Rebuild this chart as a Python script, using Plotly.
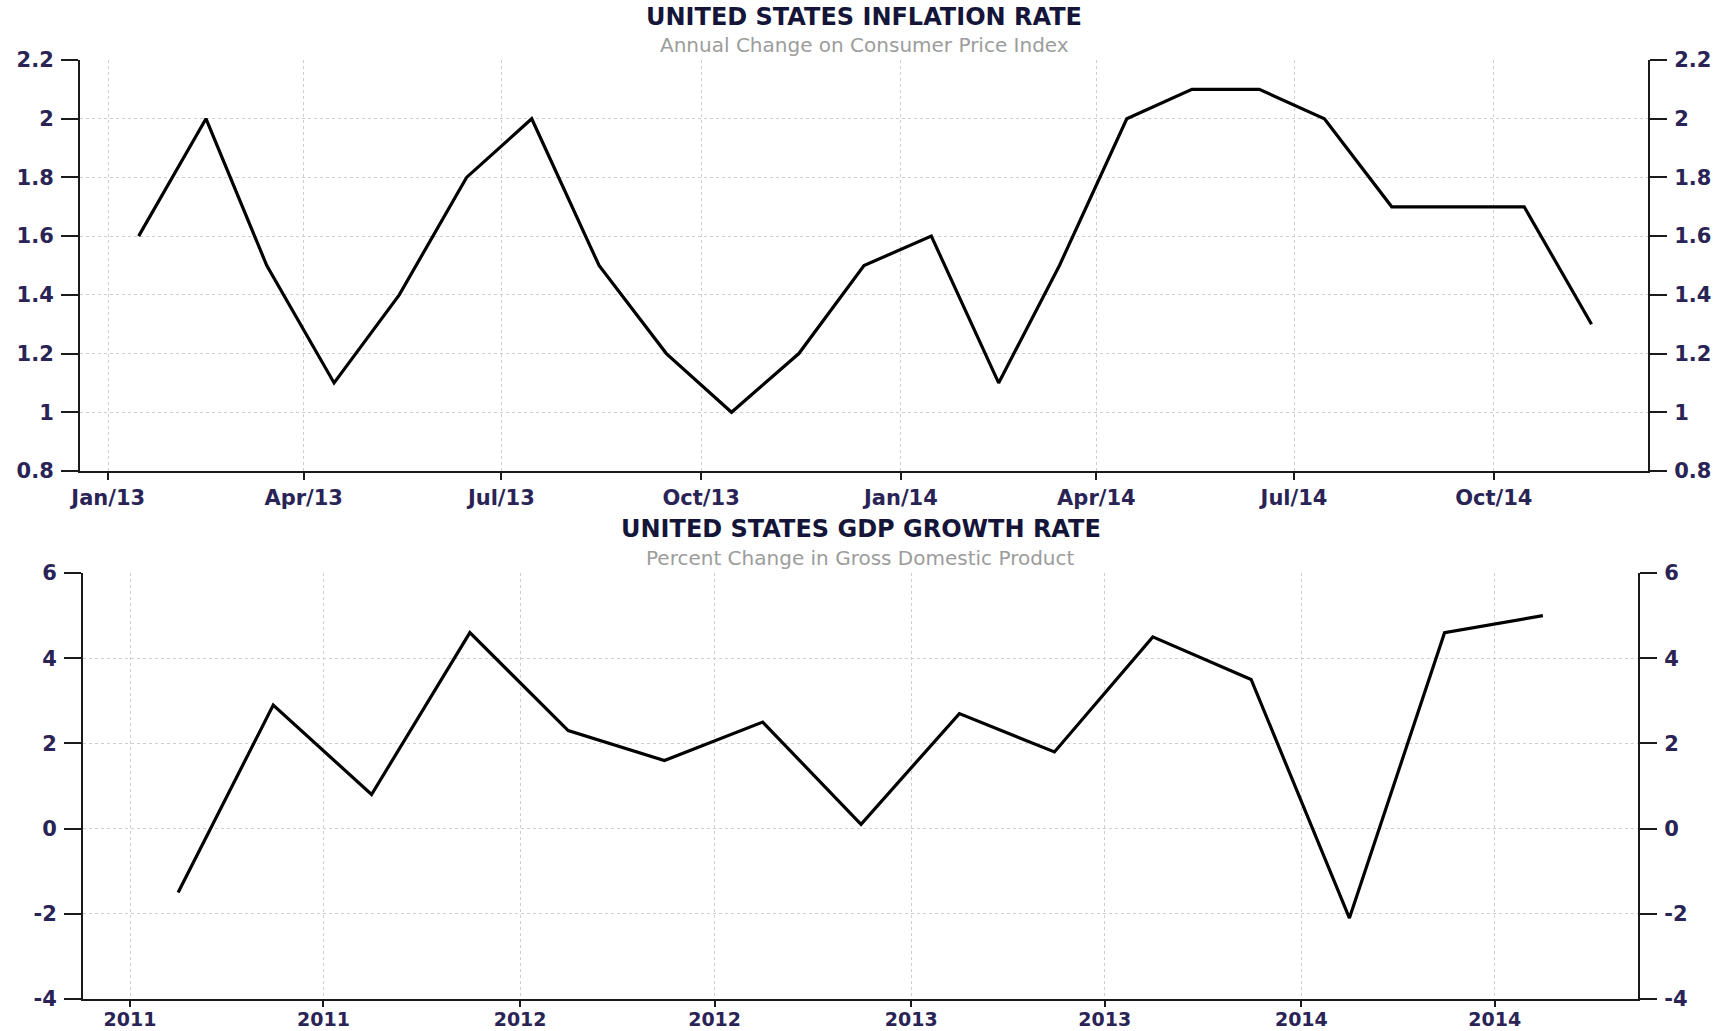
import plotly.graph_objects as go

# ---- US CPI inflation, annual change (%), monthly ----
cpi_months = ["2013-01", "2013-02", "2013-03", "2013-04", "2013-05", "2013-06",
              "2013-07", "2013-08", "2013-09", "2013-10", "2013-11", "2013-12",
              "2014-01", "2014-02", "2014-03", "2014-04", "2014-05", "2014-06",
              "2014-07", "2014-08", "2014-09", "2014-10", "2014-11"]
cpi_values = [1.6, 2.0, 1.5, 1.1, 1.4, 1.8, 2.0, 1.5, 1.2, 1.0, 1.2, 1.5,
              1.6, 1.1, 1.5, 2.0, 2.1, 2.1, 2.0, 1.7, 1.7, 1.7, 1.3]

# ---- US GDP growth, percent change (annualized), quarterly ----
gdp_quarters = ["2011-02", "2011-05", "2011-08", "2011-11",
                "2012-02", "2012-05", "2012-08", "2012-11",
                "2013-02", "2013-05", "2013-08", "2013-11",
                "2014-02", "2014-05", "2014-08"]
gdp_values = [-1.5, 2.9, 0.8, 4.6, 2.3, 1.6, 2.5, 0.1,
              2.7, 1.8, 4.5, 3.5, -2.1, 4.6, 5.0]

cpi_ticks = [0.8, 1.0, 1.2, 1.4, 1.6, 1.8, 2.0, 2.2]
cpi_tick_labels = ["0.8", "1", "1.2", "1.4", "1.6", "1.8", "2", "2.2"]
gdp_ticks = [-4, -2, 0, 2, 4, 6]
gdp_tick_labels = ["-4", "-2", "0", "2", "4", "6"]

# points sit mid-period
cpi_dates = [m + "-15" for m in cpi_months]
gdp_dates = [q + "-15" for q in gdp_quarters]

W, H = 1727, 1031
FONT = "DejaVu Sans"
TICK_COLOR = "#2a2456"
AXIS_COLOR = "#1a1a1a"
GRID_COLOR = "#cfcfcf"


def px_x(p):
    return p / W


def px_y(p):
    return 1 - p / H


fig = go.Figure()
fig.add_trace(go.Scatter(x=cpi_dates, y=cpi_values, mode="lines",
                         line=dict(color="#000000", width=3.2),
                         xaxis="x", yaxis="y", showlegend=False))
fig.add_trace(go.Scatter(x=gdp_dates, y=gdp_values, mode="lines",
                         line=dict(color="#000000", width=3.2),
                         xaxis="x2", yaxis="y2", showlegend=False))
# hidden copies so the right-hand value axes get drawn
fig.add_trace(go.Scatter(x=cpi_dates, y=cpi_values, mode="lines", opacity=0,
                         hoverinfo="skip", xaxis="x", yaxis="y3", showlegend=False))
fig.add_trace(go.Scatter(x=gdp_dates, y=gdp_values, mode="lines", opacity=0,
                         hoverinfo="skip", xaxis="x2", yaxis="y4", showlegend=False))

tickfont = dict(family=FONT, size=21, color=TICK_COLOR, weight="bold")

common_y = dict(showline=True, linecolor=AXIS_COLOR, linewidth=2,
                ticks="outside", ticklen=17, tickwidth=2, tickcolor=AXIS_COLOR,
                tickfont=tickfont, zeroline=False, fixedrange=True,
                automargin=False, ticklabelstandoff=3)
common_x = dict(type="date", showline=True, linecolor=AXIS_COLOR, linewidth=2,
                ticks="outside", ticklen=7, tickwidth=2, tickcolor=AXIS_COLOR,
                tickfont=tickfont, zeroline=False, automargin=False,
                showgrid=True, gridcolor=GRID_COLOR, griddash="dot", gridwidth=1)

top_x = [px_x(80), px_x(1648)]
top_y = [px_y(471), px_y(60)]
bot_x = [px_x(83), px_x(1638)]
bot_y = [px_y(999), px_y(573)]

fig.update_layout(
    template="none",
    width=W, height=H,
    margin=dict(l=0, r=0, t=0, b=0, autoexpand=False),
    paper_bgcolor="white", plot_bgcolor="white",
    xaxis=dict(common_x, domain=top_x, anchor="y",
               range=["2012-12-19", "2014-12-11"],
               tick0="2013-01-01", dtick="M3", tickformat="%b/%y"),
    yaxis=dict(common_y, domain=top_y, anchor="x", side="left",
               range=[0.8, 2.2], tickvals=cpi_ticks, ticktext=cpi_tick_labels,
               showgrid=True, gridcolor=GRID_COLOR, griddash="dot", gridwidth=1),
    yaxis3=dict(common_y, overlaying="y", anchor="x", side="right",
                range=[0.8, 2.2], tickvals=cpi_ticks, ticktext=cpi_tick_labels,
                showgrid=False),
    xaxis2=dict(common_x, domain=bot_x, anchor="y2",
                range=["2010-11-18", "2014-11-12"],
                tick0="2011-01-01", dtick="M6", tickformat="%Y",
                ticklen=6, ticklabelstandoff=-4,
                tickfont=dict(tickfont, size=19)),
    yaxis2=dict(common_y, domain=bot_y, anchor="x2", side="left",
                range=[-4, 6], tickvals=gdp_ticks, ticktext=gdp_tick_labels,
                showgrid=True, gridcolor=GRID_COLOR, griddash="dot", gridwidth=1),
    yaxis4=dict(common_y, overlaying="y2", anchor="x2", side="right",
                range=[-4, 6], tickvals=gdp_ticks, ticktext=gdp_tick_labels,
                showgrid=False),
)

titles = [
    ("UNITED STATES INFLATION RATE", "Annual Change on Consumer Price Index",
     (top_x[0] + top_x[1]) / 2, 17, 45),
    ("UNITED STATES GDP GROWTH RATE", "Percent Change in Gross Domestic Product",
     (bot_x[0] + bot_x[1]) / 2, 529, 558),
]
for title, subtitle, cx, ty, sy in titles:
    fig.add_annotation(text=title, x=cx, y=px_y(ty), xref="paper", yref="paper",
                       showarrow=False, xanchor="center", yanchor="middle",
                       font=dict(family=FONT, size=24, color="#15153a", weight="bold"))
    fig.add_annotation(text=subtitle, x=cx, y=px_y(sy), xref="paper", yref="paper",
                       showarrow=False, xanchor="center", yanchor="middle",
                       font=dict(family=FONT, size=20, color="#9c9c9c"))

fig.write_html("out.html")
